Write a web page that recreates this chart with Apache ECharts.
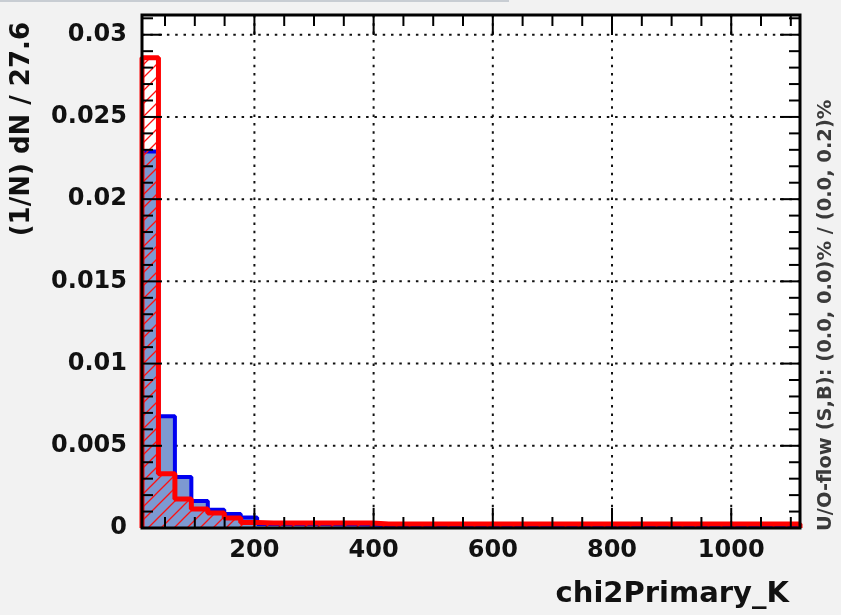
<!DOCTYPE html>
<html><head><meta charset="utf-8">
<script src="https://cdn.jsdelivr.net/npm/echarts@6/dist/echarts.min.js"></script>
<style>html,body{margin:0;padding:0;background:#f2f2f2;}#c{width:841px;height:615px;}</style>
</head><body><div id="c"></div>
<script>
// ---- data ----
const binLow = 11.4;
const binWidth = 27.6;
const signalValues = [
  0.0229, 0.0068, 0.0031, 0.00164, 0.00111, 0.00085, 0.00064,
  0.00025, 0.00025, 0.00024, 0.00024, 0.00023, 0.00023, 0.00022,
  0.00016, 0.00016, 0.00016, 0.00015, 0.00015, 0.00015, 0.00015, 0.00015, 0.00015, 0.00015,
  0.00015, 0.00015, 0.00015, 0.00015, 0.00015, 0.00015, 0.00015, 0.00015, 0.00015, 0.00015,
  0.00015, 0.00015, 0.00015, 0.00015, 0.00015, 0.00015
];
const backgroundValues = [
  0.0286, 0.0033, 0.00176, 0.00115, 0.00091, 0.00061, 0.00034,
  0.00031, 0.00031, 0.00031, 0.00031, 0.00031, 0.00031, 0.00031,
  0.00024, 0.00024, 0.00024, 0.00024, 0.00024, 0.00024, 0.00024, 0.00024, 0.00024, 0.00024,
  0.00024, 0.00024, 0.00024, 0.00024, 0.00024, 0.00024, 0.00024, 0.00024, 0.00024, 0.00024,
  0.00024, 0.00024, 0.00024, 0.00024, 0.00024, 0.00024
];
const xMajorTicks = [200, 400, 600, 800, 1000];
const xMinorTicks = [50, 100, 150, 250, 300, 350, 450, 500, 550, 650, 700, 750, 850, 900, 950, 1050, 1100];
const yMajorTicks = [0, 0.005, 0.01, 0.015, 0.02, 0.025, 0.03];
const yMinorTicks = [0.001, 0.002, 0.003, 0.004, 0.006, 0.007, 0.008, 0.009, 0.011, 0.012, 0.013, 0.014,
  0.016, 0.017, 0.018, 0.019, 0.021, 0.022, 0.023, 0.024, 0.026, 0.027, 0.028, 0.029, 0.031];
const xTitle = 'chi2Primary_K';
const yTitle = '(1/N) dN / 27.6';
const sideText = 'U/O-flow (S,B): (0.0, 0.0)% / (0.0, 0.2)%';

const xMax = binLow + signalValues.length * binWidth;
const yMax = 0.0312;

function stepData(vals) {
  const d = [[binLow, 0]];
  vals.forEach((v, i) => d.push([binLow + i * binWidth, v]));
  d.push([xMax, vals[vals.length - 1]]);
  d.push([xMax, 0]);
  return d;
}

// red hatch pattern
const pc = document.createElement('canvas');
pc.width = 13; pc.height = 13;
const g = pc.getContext('2d');
g.strokeStyle = '#ff1010';
g.lineWidth = 1.3;
g.beginPath();
g.moveTo(0, 13); g.lineTo(13, 0);
g.moveTo(-2, 2); g.lineTo(2, -2);
g.moveTo(11, 15); g.lineTo(15, 11);
g.stroke();

const font = '"DejaVu Sans", sans-serif';
const chart = echarts.init(document.getElementById('c'), null, {renderer: 'canvas'});

function gridRender(params, api) {
  const cs = params.coordSys;
  const ch = [];
  const st = {stroke: '#111', lineWidth: 2, lineDash: [2.5, 5.8]};
  xMajorTicks.forEach(v => {
    const p = api.coord([v, 0]);
    ch.push({type: 'line', shape: {x1: p[0], y1: cs.y, x2: p[0], y2: cs.y + cs.height}, style: st});
  });
  yMajorTicks.forEach(v => {
    if (v === 0) return;
    const p = api.coord([binLow, v]);
    ch.push({type: 'line', shape: {x1: cs.x, y1: p[1], x2: cs.x + cs.width, y2: p[1]}, style: st});
  });
  return {type: 'group', silent: true, children: ch};
}

function frameRender(params, api) {
  const cs = params.coordSys;
  const ch = [];
  const st = {stroke: '#000', lineWidth: 2};
  const L = cs.x, R = cs.x + cs.width, T = cs.y, B = cs.y + cs.height;
  const addX = (v, len) => {
    const p = api.coord([v, 0]);
    ch.push({type: 'line', shape: {x1: p[0], y1: B, x2: p[0], y2: B - len}, style: st});
    ch.push({type: 'line', shape: {x1: p[0], y1: T, x2: p[0], y2: T + len}, style: st});
  };
  const addY = (v, len) => {
    const p = api.coord([binLow, v]);
    ch.push({type: 'line', shape: {x1: L, y1: p[1], x2: L + len, y2: p[1]}, style: st});
    ch.push({type: 'line', shape: {x1: R, y1: p[1], x2: R - len, y2: p[1]}, style: st});
  };
  xMajorTicks.forEach(v => addX(v, 20));
  xMinorTicks.forEach(v => addX(v, 11));
  yMajorTicks.forEach(v => addY(v, 20));
  yMinorTicks.forEach(v => addY(v, 11));
  ch.push({type: 'rect', shape: {x: L, y: T, width: cs.width, height: cs.height},
    style: {fill: 'none', stroke: '#000', lineWidth: 3}});
  return {type: 'group', silent: true, children: ch};
}

const labelStyle = {fontFamily: font, fontWeight: 'bold', fontSize: 24, color: '#111'};

chart.setOption({
  animation: false,
  backgroundColor: '#f2f2f2',
  grid: {left: 142, right: 41, top: 15, bottom: 87, show: true, backgroundColor: '#ffffff', borderWidth: 0},
  xAxis: {
    type: 'value', min: binLow, max: xMax,
    axisLine: {show: false}, axisTick: {show: false}, splitLine: {show: false},
    axisLabel: Object.assign({customValues: xMajorTicks, margin: 11,
      formatter: v => String(Math.round(v))}, labelStyle)
  },
  yAxis: {
    type: 'value', min: 0, max: yMax,
    axisLine: {show: false}, axisTick: {show: false}, splitLine: {show: false},
    axisLabel: Object.assign({customValues: yMajorTicks, margin: 15,
      formatter: v => String(+(+v).toFixed(4))}, labelStyle)
  },
  graphic: [
    {type: 'line', shape: {x1: 0, y1: 1, x2: 509, y2: 1}, style: {stroke: '#c8cdd3', lineWidth: 2}, silent: true},
    {type: 'text', x: 22, y: 22, rotation: Math.PI / 2,
      style: {text: yTitle, font: 'bold 26px ' + font, fill: '#111', textAlign: 'right', textVerticalAlign: 'middle'}},
    {type: 'text', x: 789, y: 594,
      style: {text: xTitle, font: 'bold 29px ' + font, fill: '#111', textAlign: 'right', textVerticalAlign: 'middle'}},
    {type: 'text', x: 826, y: 531, rotation: Math.PI / 2,
      style: {text: sideText, font: 'bold 19.5px ' + font, fill: '#3a3a3a', textAlign: 'left', textVerticalAlign: 'middle'}}
  ],
  series: [
    {type: 'custom', renderItem: gridRender, data: [[binLow, 0]], z: 1, silent: true},
    {type: 'line', name: 'Signal', step: 'end', data: stepData(signalValues), symbol: 'none', z: 2,
      lineStyle: {color: '#0000f0', width: 4}, areaStyle: {color: '#7d99d1', opacity: 1}, silent: true},
    {type: 'line', name: 'Background', step: 'end', data: stepData(backgroundValues), symbol: 'none', z: 3,
      lineStyle: {color: '#ff0000', width: 5}, areaStyle: {color: {image: pc, repeat: 'repeat'}, opacity: 1}, silent: true},
    {type: 'custom', renderItem: frameRender, data: [[binLow, 0]], z: 10, silent: true}
  ]
});
</script></body></html>
